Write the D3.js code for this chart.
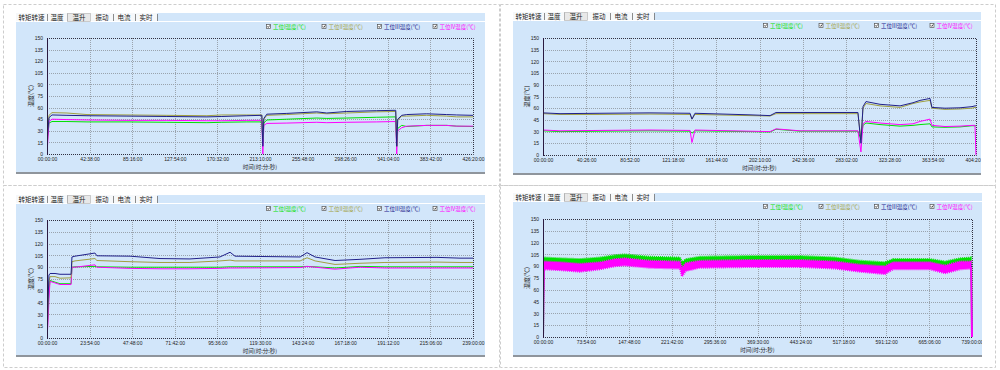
<!DOCTYPE html>
<html>
<head>
<meta charset="utf-8">
<script src="https://cdn.jsdelivr.net/npm/d3@7"></script>
<style>
html, body { margin: 0; padding: 0; background: #fff; }
svg { display: block; }
</style>
</head>
<body>
<div id="container"></div>
<script>
"use strict"

// ---- data ----
const tabNames = ["转矩转速", "温度", "温升", "振动", "电流", "实时"];
const seriesNames = ["工位I温度(℃)", "工位II温度(℃)", "工位III温度(℃)", "工位IV温度(℃)"];
const yTicks = [0, 15, 30, 45, 60, 75, 90, 105, 120, 135, 150];

// top left (hours)
const tlHours   = [0, 2, 5, 20, 40, 80, 120, 160, 175, 200, 215, 216, 217, 220, 240, 270, 280, 300, 330, 349, 350, 351, 355, 360, 380, 400, 410, 426.3];
const tlGreen   = [10, 40, 42, 42, 41.5, 41.5, 41, 40.5, 41, 41.5, 41.5, 15, 40, 44, 45, 46.5, 46, 46.5, 47.5, 48, 10, 33, 37, 35.5, 37, 37, 36, 35.5];
const tlOlive   = [20, 50, 53.5, 53, 51, 50.5, 50, 49.5, 50.5, 50.5, 50.5, 20, 45, 50, 51, 53, 52, 53, 54.5, 55, 10, 44, 49, 49, 50, 49, 48, 48];
const tlNavy    = [15, 47, 50.5, 50, 49.5, 49, 48.5, 48, 48.5, 49.5, 50, 10, 46, 51.5, 52.5, 54.5, 53, 55, 56, 56.5, 10, 45, 50, 51, 52, 51, 50.5, 50];
const tlMagenta = [0, 42, 45, 44.5, 44, 43.5, 43.5, 43, 43, 43.5, 43.5, 0, 37, 39.5, 40, 41, 40.5, 41, 41.5, 42, 0, 30, 34, 36, 37, 37, 36, 36];
const tlTickLabels = ["00:00:00", "42:38:00", "85:16:00", "127:54:00", "170:32:00", "213:10:00", "255:48:00", "298:26:00", "341:04:00", "383:42:00", "426:20:00"];

// top right
const trHours   = [0, 15.9, 53.2, 99.9, 137.3, 139.1, 141.9, 193.3, 212, 217.6, 240, 294.1, 296.9, 298.8, 301.6, 314.7, 333.4, 345.5, 352, 361.4, 363.2, 375.4, 389.4, 400.6, 403.4, 404.3];
const trGreen   = [31, 30, 30.5, 31, 30.5, 28, 31, 30, 29.5, 33, 30.5, 30.5, 20, 38, 41, 39, 37, 38, 39, 40, 36, 35.5, 36, 37.5, 37.5, 37.5];
const trOlive   = [53, 52, 52, 52.5, 52, 46, 52, 50.5, 50, 53, 53, 53, 20, 60, 66, 63, 61, 66, 68, 70, 60, 58.5, 59, 60, 61, 61];
const trNavy    = [54, 53, 53.5, 54, 53.5, 46, 53.5, 51.5, 50.5, 54.5, 54.5, 54.5, 15, 62, 68.5, 65, 63, 67, 70, 72.5, 61, 60, 60.5, 62, 63, 63];
const trMagenta = [32, 31, 31.5, 32, 31.5, 16, 32, 30.5, 30, 33.5, 31, 31, 4, 40, 43, 41, 39, 40, 43, 46, 38, 36.5, 37, 38, 38, 0];
const trTickLabels = ["00:00:00", "40:26:00", "80:52:00", "121:18:00", "161:44:00", "202:10:00", "242:36:00", "283:02:00", "323:28:00", "363:54:00", "404:20:00"];

// bottom left
const blHours   = [0, 0.56, 1.1, 1.7, 4.5, 7.3, 13.5, 14, 15.7, 26.9, 28, 46.6, 63.4, 80.2, 97, 102.7, 105.5, 142, 145.9, 150.4, 161.6, 175.6, 189.6, 218.8, 231.7, 239];
const blGreen   = [0, 30, 60, 73, 71, 69, 69, 90, 90.5, 91, 90.5, 90, 90, 90, 90, 90.5, 90.5, 90.5, 91, 90.5, 89, 91, 90.5, 90.5, 90.5, 90.5];
const blOlive   = [0, 40, 72, 78, 78, 76, 76.5, 97, 98, 101, 98.5, 97, 96, 96, 98, 99, 98, 98, 102, 98, 93.5, 95, 96, 96.5, 96, 96];
const blNavy    = [0, 45, 80, 82, 82, 81, 81, 103, 104, 108, 104.5, 104, 101, 100.5, 103, 109, 104, 103, 108.5, 103, 98.5, 100, 102, 102.5, 101.5, 101.5];
const blMagenta = [0, 20, 50, 72, 70, 68, 68, 90, 90, 93, 90, 88.5, 88, 88, 88.5, 89, 89, 89.5, 91, 90, 87.5, 90, 89, 89, 89, 89];
const blTickLabels = ["00:00:00", "23:54:00", "47:48:00", "71:42:00", "95:36:00", "119:30:00", "143:24:00", "167:18:00", "191:12:00", "215:06:00", "239:00:00"];

// bottom right (noisy: upper / lower edge of each band)
const brHours     = [0, 1.7, 29.3, 63.7, 98.2, 124, 141, 184, 236, 239.4, 246, 270, 356.6, 442.7, 503, 546, 589, 603, 666.7, 692.5, 718.3, 737.5, 739];
const brGreenHi   = [0, 101, 100, 99, 101, 104, 105, 102, 101, 95, 99, 102, 103, 103, 101, 97, 95, 99, 99, 96, 100, 101, 0];
const brGreenLo   = [0, 93, 92, 91, 93, 96, 97, 94, 93, 86, 91, 94, 95, 95, 93, 89, 87, 91, 91, 88, 92, 93, 0];
const brOlive     = [0, 97, 96, 95, 97, 100, 101, 98, 97, 90, 95, 98, 99, 99, 97, 93, 91, 95, 95, 92, 96, 97, 0];
const brNavy      = [0, 94, 93, 91.5, 93.5, 96.5, 97.5, 95, 94, 85, 92, 95, 96, 96, 94, 90, 88, 93, 93, 89, 94, 94, 0];
const brMagentaHi = [0, 96, 95, 93, 95, 99, 100, 97, 96, 88, 94, 97, 98, 98, 96, 92, 90, 95, 95, 91, 96, 96, 0];
const brMagentaLo = [0, 86, 85, 83, 86, 90, 91, 88, 87, 77, 84, 88, 89, 89, 87, 83, 80, 86, 86, 81, 86, 87, 0];
const brTickLabels = ["00:00:00", "73:54:00", "147:48:00", "221:42:00", "295:36:00", "369:30:00", "443:24:00", "517:18:00", "591:12:00", "665:06:00", "739:00:00"];

// ---- styling / layout ----
const colors = ["#00e000", "#a0a040", "#20208a", "#ff00ff"];
const width = 1000;
const height = 370;
const cjk = "'Noto Sans CJK SC', sans-serif";
const latin = "'Liberation Sans', Arial, sans-serif";
const panelBg = "#d2e6fa";
const tabEdges = [0, 31, 51, 75, 97, 119, 141];
const activeTab = 2;

const cells = [
    [3, 4, 496, 181], [500, 4, 495, 181],
    [3, 185, 496, 182], [500, 185, 495, 182]
];

const panels = [
    {id: "tl", box: [16, 13, 485, 174], plot: [47, 38, 473, 154], total: 426.333,
     hours: tlHours, series: [tlGreen, tlOlive, tlNavy, tlMagenta], labels: tlTickLabels},
    {id: "tr", box: [513, 12, 981, 175], plot: [543, 38, 976, 155], total: 404.333,
     hours: trHours, series: [trGreen, trOlive, trNavy, trMagenta], labels: trTickLabels},
    {id: "bl", box: [16, 195, 485, 357], plot: [47, 220, 473, 338], total: 239,
     hours: blHours, series: [blGreen, blOlive, blNavy, blMagenta], labels: blTickLabels},
    {id: "br", box: [513, 193, 982, 357], plot: [543, 219, 972, 337], total: 739,
     hours: brHours, labels: brTickLabels,
     bands: [[brGreenHi, brGreenLo], [brMagentaHi, brMagentaLo]],
     series: [brOlive, null, brNavy, null]}
];

let svg;


function Main()
{
    svg = d3.select("#container").append("svg")
        .attr("width", width)
        .attr("height", height);

    svg.append("rect")
        .attr("width", width)
        .attr("height", height)
        .attr("fill", "#ffffff");

    // dashed table cells
    svg.append("g")
        .selectAll("rect")
        .data(cells)
        .enter()
        .append("rect")
        .attr("x", d => d[0] + 0.5)
        .attr("y", d => d[1] + 0.5)
        .attr("width", d => d[2])
        .attr("height", d => d[3])
        .attr("fill", "none")
        .attr("stroke", "#cdcdcd")
        .attr("stroke-dasharray", "3,2");

    panels.forEach(DrawPanel);
};


function DrawPanel(cfg)
{
    const [left, top, right, bottom] = cfg.box;
    const [pl, pt, pr, pb] = cfg.plot;

    svg.append("clipPath")
        .attr("id", "clip-" + cfg.id)
        .append("rect")
        .attr("x", left).attr("y", top)
        .attr("width", right - left).attr("height", bottom - top);

    const g = svg.append("g").attr("clip-path", `url(#clip-${cfg.id})`);

    g.append("rect")
        .attr("x", left).attr("y", top)
        .attr("width", right - left).attr("height", bottom - top)
        .attr("fill", panelBg);

    DrawTabs(g, left, top, right);

    const x = d3.scaleLinear().domain([0, cfg.total]).range([pl, pr]);
    const y = d3.scaleLinear().domain([0, 150]).range([pb, pt]);
    const xTicks = d3.range(11).map(i => i * cfg.total / 10);

    // grid
    g.append("g")
        .selectAll("line")
        .data(yTicks.slice(1, -1))
        .enter()
        .append("line")
        .attr("x1", pl).attr("x2", pr)
        .attr("y1", d => Math.round(y(d)) + 0.5).attr("y2", d => Math.round(y(d)) + 0.5)
        .attr("stroke", "#9aa3ad")
        .attr("stroke-dasharray", "1,1");

    g.append("g")
        .selectAll("line")
        .data(xTicks.slice(1, -1))
        .enter()
        .append("line")
        .attr("x1", d => Math.round(x(d)) + 0.5).attr("x2", d => Math.round(x(d)) + 0.5)
        .attr("y1", pt).attr("y2", pb)
        .attr("stroke", "#9aa3ad")
        .attr("stroke-dasharray", "1,1");

    // frame: dotted top / right / bottom, solid left
    g.append("path")
        .attr("d", `M${pl},${pt + 0.5}H${pr + 0.5}V${pb + 0.5}H${pl}`)
        .attr("fill", "none")
        .attr("stroke", "#303040")
        .attr("stroke-dasharray", "1,1");

    // axes
    const yAxis = g.append("g")
        .attr("transform", `translate(${pl},0)`)
        .call(d3.axisLeft(y).tickValues(yTicks).tickSize(0).tickPadding(4));
    yAxis.select(".domain").remove();
    yAxis.selectAll("text")
        .attr("font-family", latin)
        .attr("font-size", 5)
        .attr("fill", "#222");

    const xAxis = g.append("g")
        .attr("transform", `translate(0,${pb})`)
        .call(d3.axisBottom(x).tickValues(xTicks).tickSize(0).tickPadding(3)
            .tickFormat((d, i) => cfg.labels[i]));
    xAxis.select(".domain").remove();
    xAxis.selectAll("text")
        .attr("font-family", latin)
        .attr("font-size", 5)
        .attr("fill", "#222");

    // axis titles
    g.append("text")
        .attr("transform", `translate(${pl - 14},${(pt + pb) / 2}) rotate(-90)`)
        .attr("text-anchor", "middle")
        .attr("font-family", cjk)
        .attr("font-size", 6)
        .attr("fill", "#222")
        .text("温度(℃)");

    g.append("text")
        .attr("x", (pl + pr) / 2)
        .attr("y", pb + 14.5)
        .attr("text-anchor", "middle")
        .attr("font-family", cjk)
        .attr("font-size", 5.5)
        .attr("fill", "#222")
        .text("时间(时:分:秒)");

    // series
    const plotClip = "pclip-" + cfg.id;
    svg.append("clipPath")
        .attr("id", plotClip)
        .append("rect")
        .attr("x", pl).attr("y", pt - 1)
        .attr("width", pr - pl + 1).attr("height", pb - pt + 2);

    const lines = g.append("g").attr("clip-path", `url(#${plotClip})`);

    if (cfg.bands)
    {
        // olive hidden under green, then green band, navy, magenta band
        DrawLine(lines, x, y, cfg.hours, cfg.series[0], colors[1]);
        DrawBand(lines, x, y, cfg.hours, cfg.bands[0], colors[0]);
        DrawLine(lines, x, y, cfg.hours, cfg.series[2], colors[2]);
        DrawBand(lines, x, y, cfg.hours, cfg.bands[1], colors[3]);
    }
    else
    {
        [0, 3, 1, 2].forEach(i => DrawLine(lines, x, y, cfg.hours, cfg.series[i], colors[i]));
    }

    // left axis line
    g.append("line")
        .attr("x1", pl + 0.5).attr("x2", pl + 0.5)
        .attr("y1", pt).attr("y2", pb + 1)
        .attr("stroke", "#2a1a40");

    DrawLegend(g, left, top);

    // bottom shadow
    g.append("rect")
        .attr("x", left).attr("y", bottom - 2)
        .attr("width", right - left).attr("height", 2)
        .attr("fill", "#8f959c");
};


function DrawLine(g, x, y, hours, values, color)
{
    const line = d3.line()
        .x((d, i) => x(hours[i]))
        .y(d => y(d));

    g.append("path")
        .datum(values)
        .attr("d", line)
        .attr("fill", "none")
        .attr("stroke", color)
        .attr("stroke-width", 1);
};


function DrawBand(g, x, y, hours, band, color)
{
    const [hi, lo] = band;
    const area = d3.area()
        .x((d, i) => x(hours[i]))
        .y0((d, i) => y(lo[i]))
        .y1(d => y(d));

    g.append("path")
        .datum(hi)
        .attr("d", area)
        .attr("fill", color)
        .attr("stroke", color)
        .attr("stroke-width", 2)
        .attr("stroke-dasharray", "1,1");
};


function DrawTabs(g, left, top, right)
{
    g.append("rect")
        .attr("x", left).attr("y", top)
        .attr("width", tabEdges[tabEdges.length - 1]).attr("height", 8)
        .attr("fill", "#f6f8fa");

    g.append("line")
        .attr("x1", left).attr("x2", right)
        .attr("y1", top + 8.5).attr("y2", top + 8.5)
        .attr("stroke", "#ffffff");

    tabNames.forEach((name, i) => {
        const x0 = left + tabEdges[i];
        const x1 = left + tabEdges[i + 1];

        if (i == activeTab)
        {
            g.append("rect")
                .attr("x", x0 + 0.5).attr("y", top + 0.5)
                .attr("width", x1 - x0 - 1).attr("height", 8)
                .attr("fill", "#e8e8e8")
                .attr("stroke", "#b0b0b0")
                .attr("stroke-width", 0.6);
        }
        else
        {
            g.append("line")
                .attr("x1", x1 + 0.5).attr("x2", x1 + 0.5)
                .attr("y1", top + 1).attr("y2", top + 8)
                .attr("stroke", "#707070")
                .attr("stroke-width", 0.8);
        }

        g.append("text")
            .attr("x", (x0 + x1) / 2)
            .attr("y", top + 6.5)
            .attr("text-anchor", "middle")
            .attr("font-family", cjk)
            .attr("font-size", 6.5)
            .attr("fill", "#222")
            .text(name);
    });
};


function DrawLegend(g, left, top)
{
    const items = g.append("g")
        .selectAll("g")
        .data(seriesNames)
        .enter()
        .append("g")
        .attr("transform", (_, i) => `translate(${left + 250 + i * 55.5},${top + 15})`);

    items.append("rect")
        .attr("x", 0.5).attr("y", -3.5)
        .attr("width", 4).attr("height", 4)
        .attr("fill", "#ffffff")
        .attr("stroke", "#555")
        .attr("stroke-width", 0.7);

    items.append("path")
        .attr("d", "M1.3,-1.6L2.3,-0.6L3.8,-2.6")
        .attr("fill", "none")
        .attr("stroke", "#222")
        .attr("stroke-width", 0.8);

    items.append("text")
        .attr("x", 7)
        .attr("y", 0.8)
        .attr("font-family", cjk)
        .attr("font-size", 5.5)
        .attr("fill", (_, i) => colors[i])
        .text(d => d);
};


Main();
</script>
</body>
</html>
